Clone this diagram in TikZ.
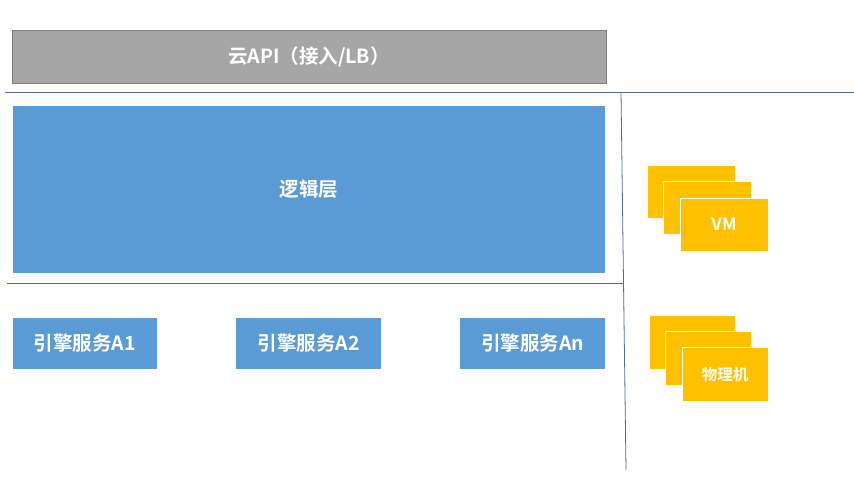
\documentclass[tikz,border=0pt]{standalone}
\usepackage{fontspec}
\setmainfont{Noto Sans CJK SC}[BoldFont={* Bold}]
\newfontfamily\cjkb{Noto Sans CJK SC Bold}
\definecolor{grayfill}{HTML}{A6A6A6}
\definecolor{grayline}{HTML}{7F7F7F}
\definecolor{bluefill}{HTML}{5B9BD5}
\definecolor{yel}{HTML}{FFC000}
\definecolor{sepline}{HTML}{4F6F9A}
\begin{document}
\begin{tikzpicture}[x=1pt,y=-1pt,
  lbl/.style={text=white,font=\cjkb\fontsize{19.5}{22}\selectfont},
  apibox/.style={fill=grayfill,draw=grayline,line width=0.8pt,inner sep=0pt,lbl},
  bluebox/.style={fill=bluefill,draw=none,inner sep=0pt,lbl},
  ybox/.style={fill=yel,draw=white,line width=1pt,inner sep=0pt,text=white,font=\cjkb\fontsize{15.5}{17}\selectfont,minimum width=88pt,minimum height=53pt},
  sep/.style={draw=sepline,line width=0.8pt}]
\useasboundingbox (0,0) rectangle (854,492);
\fill[white] (0,0) rectangle (854,492);
\node[apibox,minimum width=594pt,minimum height=53pt] (api) at (309,56.5) {云API（接入/LB）};
\coordinate (h1a) at (5,92);
\coordinate (h1b) at (854,92);
\draw[sep] (h1a) -- (h1b);
\coordinate (v1a) at (621,92);
\coordinate (v1b) at (626,470);
\draw[sep] (v1a) -- (v1b);
\coordinate (h2a) at (7,283);
\coordinate (h2b) at (624,283);
\draw[sep] (h2a) -- (h2b);
\node[bluebox,minimum width=592pt,minimum height=167pt] (logic) at (309,189.5) {逻辑层};
\node[bluebox,minimum width=144pt,minimum height=51pt] (a1) at (85,343.5) {引擎服务A1};
\node[bluebox,minimum width=145pt,minimum height=51pt] (a2) at (308.5,343.5) {引擎服务A2};
\node[bluebox,minimum width=145pt,minimum height=51pt] (an) at (532.5,343.5) {引擎服务An};
\node[ybox] (vm1) at (691,191.5) {};
\node[ybox] (vm2) at (707,207.5) {};
\node[ybox,font=\cjkb\fontsize{17}{19}\selectfont] (vm3) at (724,224.5) {VM};
\node[ybox,minimum width=86pt,minimum height=54pt] (pm1) at (692,342) {};
\node[ybox,minimum width=86pt,minimum height=54pt] (pm2) at (708.5,358) {};
\node[ybox,minimum width=86pt,minimum height=54pt] (pm3) at (725,374.5) {物理机};
\end{tikzpicture}
\end{document}
